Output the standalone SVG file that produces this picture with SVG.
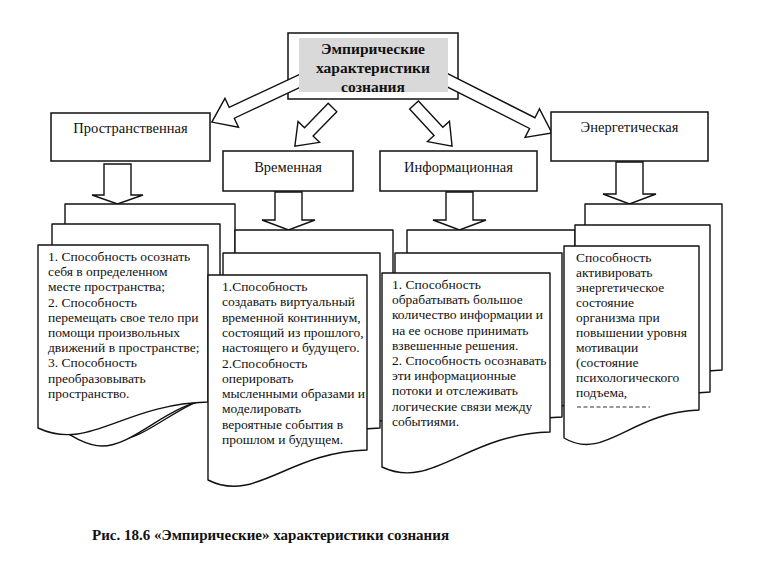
<svg xmlns="http://www.w3.org/2000/svg" width="762" height="574" viewBox="0 0 762 574">
<style>
.bx{fill:#fff;stroke:#111;stroke-width:1.5}
.pg{fill:#fff;stroke:#111;stroke-width:1.4;stroke-linejoin:round}
.ar{fill:#fff;stroke:#111;stroke-width:1.4;stroke-linejoin:miter}
text{font-family:'Liberation Serif','DejaVu Serif',serif;fill:#111}
.lb{font-size:14.5px;text-anchor:middle}
.tx{font-size:13.5px}
.ti{font-size:15.5px;font-weight:bold;text-anchor:middle}
.cap{font-size:15px;font-weight:bold}
</style>
<rect width="762" height="574" fill="#fff"/>

<g id="root-outer"><rect class="bx" x="288" y="33" width="170" height="66"/></g>

<g id="connectors">
  <polygon class="ar" transform="translate(306,78) rotate(154.9)" points="0,-6 82,-6 82,-16 104,0 82,16 82,6 0,6"/>
  <polygon class="ar" transform="translate(443,78) rotate(26.8)" points="0,-6 100,-6 100,-16 122,0 100,16 100,6 0,6"/>
  <polygon class="ar" transform="translate(332.5,107.5) rotate(134.2)" points="0,-6 34,-6 34,-15 54,0 34,15 34,6 0,6"/>
  <polygon class="ar" transform="translate(414,105) rotate(47.2)" points="0,-6 36,-6 36,-15 56,0 36,15 36,6 0,6"/>
  <polygon class="ar" points="104,164 131,164 131,195 143,195 117.5,204 92,195 104,195"/>
  <polygon class="ar" points="275,192 302,192 302,220 315,220 288.5,230 262,220 275,220"/>
  <polygon class="ar" points="446,192 473,192 473,220 486,220 459.5,230 433,220 446,220"/>
  <polygon class="ar" points="616,162 643,162 643,194 656,194 629.5,204 603,194 616,194"/>
</g>

<g id="root">
  <rect x="299" y="38" width="149" height="54" fill="#d9d9d9"/>
  <text class="ti" x="373" y="54">Эмпирические</text>
  <text class="ti" x="373" y="73">характеристики</text>
  <text class="ti" x="373" y="92">сознания</text>
</g>

<g id="spatial"><rect class="bx" x="51" y="113" width="159" height="48"/><text class="lb" x="130.5" y="133">Пространственная</text></g>
<g id="temporal"><rect class="bx" x="223" y="151" width="130" height="40"/><text class="lb" x="288" y="172">Временная</text></g>
<g id="informational"><rect class="bx" x="380" y="151" width="157" height="40"/><text class="lb" x="458.5" y="172">Информационная</text></g>
<g id="energetic"><rect class="bx" x="551" y="112" width="157" height="49"/><text class="lb" x="629.5" y="132">Энергетическая</text></g>

<g id="spatial-pages">
  <path class="pg" d="M65,204 H235 V392 C184,394 150,440 116,440 C98,440 82,428 65,418 Z"/>
  <path class="pg" d="M52,224 H220 V398 C170,400 136,446 102,446 C86,446 68,434 52,424 Z"/>
  <path class="pg" d="M38,245 H208 V402 C123,404 89,452 38,428 Z"/>
  <text class="tx" x="48" y="261">1. Способность осознать</text>
  <text class="tx" x="48" y="276.2">себя в определенном</text>
  <text class="tx" x="48" y="291.4">месте пространства;</text>
  <text class="tx" x="48" y="306.6">2. Способность</text>
  <text class="tx" x="48" y="321.8">перемещать свое тело при</text>
  <text class="tx" x="48" y="337">помощи произвольных</text>
  <text class="tx" x="48" y="352.2">движений в пространстве;</text>
  <text class="tx" x="48" y="367.4">3. Способность</text>
  <text class="tx" x="48" y="382.6">преобразовывать</text>
  <text class="tx" x="48" y="397.8">пространство.</text>
</g>

<g id="temporal-pages">
  <path class="pg" d="M235,230 H393 V420 C318,422 290,470 235,446 Z"/>
  <path class="pg" d="M223,253 H380 V428 C301,430 270,478 223,455 Z"/>
  <path class="pg" d="M208,275 H367 V450 C287.5,452 255.7,504 208,480 Z"/>
  <text class="tx" x="222" y="291">1.Способность</text>
  <text class="tx" x="222" y="306.3">создавать виртуальный</text>
  <text class="tx" x="222" y="321.6">временной континниум,</text>
  <text class="tx" x="222" y="336.9">состоящий из прошлого,</text>
  <text class="tx" x="222" y="352.2">настоящего и будущего.</text>
  <text class="tx" x="222" y="367.5">2.Способность</text>
  <text class="tx" x="222" y="382.8">оперировать</text>
  <text class="tx" x="222" y="398.1">мысленными образами и</text>
  <text class="tx" x="222" y="413.4">моделировать</text>
  <text class="tx" x="222" y="428.7">вероятные события в</text>
  <text class="tx" x="222" y="444">прошлом и будущем.</text>
</g>

<g id="informational-pages">
  <path class="pg" d="M407,230 H575 V405 C491,407 458,455 407,432 Z"/>
  <path class="pg" d="M395,253 H562 V417 C478,419 445,467 395,445 Z"/>
  <path class="pg" d="M382,273 H550 V432 C466,434 432,491 382,467 Z"/>
  <text class="tx" x="392" y="289">1. Способность</text>
  <text class="tx" x="392" y="304.2">обрабатывать большое</text>
  <text class="tx" x="392" y="319.4">количество информации и</text>
  <text class="tx" x="392" y="334.6">на ее основе принимать</text>
  <text class="tx" x="392" y="349.8">взвешенные решения.</text>
  <text class="tx" x="392" y="365">2. Способность осознавать</text>
  <text class="tx" x="392" y="380.2">эти информационные</text>
  <text class="tx" x="392" y="395.4">потоки и отслеживать</text>
  <text class="tx" x="392" y="410.6">логические связи между</text>
  <text class="tx" x="392" y="425.8">событиями.</text>
</g>

<g id="energetic-pages">
  <path class="pg" d="M585,204 H722 V370 C653,372 626,418 585,396 Z"/>
  <path class="pg" d="M575,225 H710 V392 C642,394 615,440 575,418 Z"/>
  <path class="pg" d="M564,246 H699 V410 C631,412 604,462 564,438 Z"/>
  <text class="tx" x="576" y="262">Способность</text>
  <text class="tx" x="576" y="277">активировать</text>
  <text class="tx" x="576" y="292">энергетическое</text>
  <text class="tx" x="576" y="307">состояние</text>
  <text class="tx" x="576" y="322">организма при</text>
  <text class="tx" x="576" y="337">повышении уровня</text>
  <text class="tx" x="576" y="352">мотивации</text>
  <text class="tx" x="576" y="367">(состояние</text>
  <text class="tx" x="576" y="382">психологического</text>
  <text class="tx" x="576" y="397">подъема,</text>
  <line x1="577" y1="407" x2="650" y2="407" stroke="#333" stroke-width="1" stroke-dasharray="4 2.5"/>
</g>

<g id="caption"><text class="cap" x="92" y="540">Рис. 18.6 «Эмпирические» характеристики сознания</text></g>
</svg>
